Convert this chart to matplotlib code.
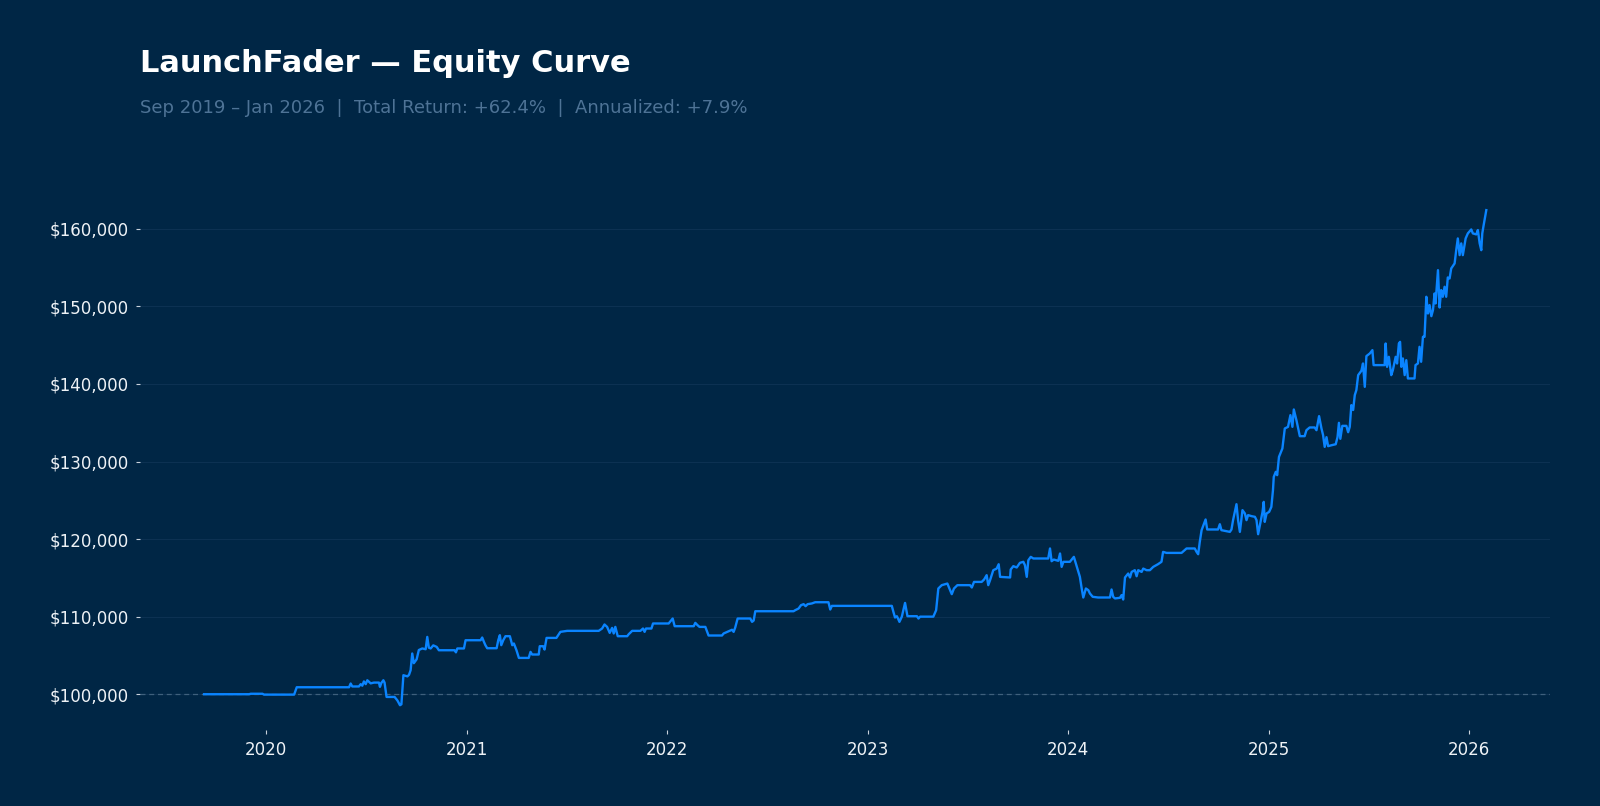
import numpy as np
import pandas as pd
import matplotlib
matplotlib.use("Agg")
import matplotlib.pyplot as plt
import matplotlib.dates as mdates
import matplotlib.ticker as mticker

# =========================
# Data (decimal year, account value in $)
# =========================
years = [
    2019.691, 2019.915, 2019.924, 2019.982, 2019.990, 2020.140, 2020.153, 2020.414,
    2020.422, 2020.430, 2020.463, 2020.472, 2020.480, 2020.488, 2020.497, 2020.505,
    2020.522, 2020.538, 2020.563, 2020.568, 2020.575, 2020.585, 2020.591, 2020.601,
    2020.641, 2020.655, 2020.668, 2020.675, 2020.685, 2020.705, 2020.713, 2020.721,
    2020.729, 2020.737, 2020.751, 2020.762, 2020.779, 2020.796, 2020.804, 2020.812,
    2020.821, 2020.834, 2020.851, 2020.862, 2020.940, 2020.947, 2020.954, 2020.987,
    2020.995, 2021.070, 2021.078, 2021.086, 2021.094, 2021.103, 2021.150, 2021.158,
    2021.166, 2021.173, 2021.183, 2021.194, 2021.216, 2021.228, 2021.236, 2021.249,
    2021.261, 2021.310, 2021.319, 2021.327, 2021.360, 2021.365, 2021.382, 2021.389,
    2021.399, 2021.448, 2021.468, 2021.502, 2021.659, 2021.676, 2021.688, 2021.701,
    2021.714, 2021.726, 2021.734, 2021.742, 2021.754, 2021.801, 2021.809, 2021.826,
    2021.867, 2021.880, 2021.888, 2021.895, 2021.922, 2021.930, 2022.008, 2022.028,
    2022.038, 2022.133, 2022.141, 2022.152, 2022.162, 2022.191, 2022.207, 2022.274,
    2022.282, 2022.324, 2022.332, 2022.340, 2022.352, 2022.415, 2022.424, 2022.432,
    2022.440, 2022.631, 2022.639, 2022.656, 2022.668, 2022.681, 2022.691, 2022.701,
    2022.722, 2022.739, 2022.805, 2022.814, 2022.822, 2023.121, 2023.129, 2023.137,
    2023.146, 2023.152, 2023.159, 2023.171, 2023.187, 2023.199, 2023.246, 2023.254,
    2023.262, 2023.328, 2023.342, 2023.353, 2023.370, 2023.398, 2023.408, 2023.420,
    2023.431, 2023.448, 2023.511, 2023.520, 2023.531, 2023.569, 2023.581, 2023.594,
    2023.602, 2023.611, 2023.627, 2023.644, 2023.654, 2023.661, 2023.711, 2023.714,
    2023.727, 2023.744, 2023.760, 2023.777, 2023.785, 2023.794, 2023.802, 2023.814,
    2023.827, 2023.901, 2023.910, 2023.918, 2023.929, 2023.951, 2023.960, 2023.968,
    2023.977, 2024.009, 2024.029, 2024.039, 2024.051, 2024.059, 2024.068, 2024.076,
    2024.089, 2024.101, 2024.109, 2024.123, 2024.150, 2024.209, 2024.217, 2024.225,
    2024.234, 2024.259, 2024.267, 2024.275, 2024.284, 2024.300, 2024.309, 2024.317,
    2024.333, 2024.342, 2024.350, 2024.367, 2024.375, 2024.392, 2024.408, 2024.425,
    2024.449, 2024.466, 2024.474, 2024.491, 2024.566, 2024.591, 2024.632, 2024.641,
    2024.649, 2024.657, 2024.666, 2024.677, 2024.686, 2024.694, 2024.748, 2024.757,
    2024.765, 2024.807, 2024.815, 2024.823, 2024.840, 2024.848, 2024.857, 2024.870,
    2024.882, 2024.890, 2024.898, 2024.915, 2024.932, 2024.940, 2024.948, 2024.960,
    2024.970, 2024.976, 2024.981, 2024.990, 2025.003, 2025.014, 2025.022, 2025.026,
    2025.036, 2025.043, 2025.052, 2025.059, 2025.069, 2025.081, 2025.097, 2025.109,
    2025.119, 2025.126, 2025.139, 2025.156, 2025.180, 2025.189, 2025.205, 2025.230,
    2025.239, 2025.252, 2025.264, 2025.272, 2025.280, 2025.289, 2025.297, 2025.314,
    2025.335, 2025.344, 2025.351, 2025.358, 2025.368, 2025.388, 2025.397, 2025.405,
    2025.413, 2025.422, 2025.430, 2025.438, 2025.447, 2025.463, 2025.471, 2025.480,
    2025.488, 2025.505, 2025.518, 2025.524, 2025.579, 2025.584, 2025.591, 2025.600,
    2025.612, 2025.620, 2025.634, 2025.641, 2025.650, 2025.656, 2025.662, 2025.670,
    2025.679, 2025.687, 2025.695, 2025.728, 2025.733, 2025.745, 2025.753, 2025.761,
    2025.770, 2025.778, 2025.787, 2025.795, 2025.803, 2025.812, 2025.820, 2025.828,
    2025.833, 2025.845, 2025.853, 2025.861, 2025.869, 2025.878, 2025.886, 2025.894,
    2025.903, 2025.911, 2025.928, 2025.936, 2025.944, 2025.953, 2025.961, 2025.969,
    2025.983, 2025.994, 2026.011, 2026.019, 2026.036, 2026.044, 2026.053, 2026.061,
    2026.066, 2026.072, 2026.086,
]

equity = [
    100000, 100000, 100060, 100060, 99950, 99950, 100900, 100900,
    101380, 101000, 101000, 101300, 101100, 101650, 101300, 101800,
    101400, 101500, 101500, 100950, 101450, 101800, 101500, 99650,
    99650, 99200, 98580, 98700, 102450, 102300, 102500, 103100,
    105250, 104000, 104500, 105700, 105900, 105800, 107390, 106000,
    105900, 106300, 106100, 105670, 105670, 105400, 105900, 105900,
    106960, 106960, 107310, 106790, 106320, 105930, 105930, 106960,
    107610, 106320, 106960, 107480, 107480, 106320, 106540, 105670,
    104680, 104680, 105460, 105120, 105120, 106190, 106190, 105760,
    107260, 107260, 108040, 108170, 108170, 108470, 108990, 108680,
    107910, 108550, 107830, 108680, 107480, 107480, 107740, 108170,
    108170, 108470, 108040, 108470, 108470, 109120, 109120, 109760,
    108770, 108770, 109200, 108900, 108680, 108680, 107570, 107570,
    107830, 108310, 108040, 108600, 109760, 109760, 109330, 109500,
    110700, 110700, 110830, 111050, 111480, 111610, 111350, 111610,
    111700, 111860, 111860, 110920, 111390, 111390, 110610, 109890,
    110060, 109760, 109330, 110000, 111770, 110060, 110060, 109760,
    110000, 110000, 110830, 113630, 114060, 114270, 113630, 112900,
    113630, 114060, 114060, 113760, 114480, 114480, 114780, 115350,
    114060, 114700, 115990, 116200, 116760, 115130, 115050, 116080,
    116510, 116340, 116940, 117070, 116630, 115130, 117280, 117710,
    117500, 117500, 118790, 117150, 117360, 117200, 118140, 116420,
    117070, 117070, 117710, 116850, 115770, 115130, 113630, 112470,
    113630, 113420, 112990, 112560, 112470, 112470, 113500, 112560,
    112350, 112430, 112780, 112210, 115050, 115560, 115050, 115770,
    115990, 115210, 115990, 115770, 116200, 115990, 115990, 116420,
    116770, 117070, 118350, 118220, 118220, 118790, 118790, 118350,
    118050, 119640, 121150, 121920, 122530, 121240, 121240, 121920,
    121150, 120930, 121240, 122440, 124500, 122440, 120930, 123730,
    123300, 122440, 123090, 122960, 122870, 122440, 120630, 122220,
    123510, 124800, 122220, 123300, 123510, 124150, 126300, 128020,
    128670, 128240, 130600, 131040, 131680, 134260, 134470, 135980,
    134470, 136710, 135330, 133270, 133270, 134040, 134390, 134390,
    134040, 135850, 134250, 133400, 131890, 133140, 131980, 132100,
    132230, 133140, 134990, 132930, 134600, 134600, 133780, 134470,
    137270, 136650, 138560, 139210, 141140, 141700, 142640, 139630,
    143590, 143930, 144360, 142430, 142430, 145220, 142210, 143500,
    141140, 141780, 143500, 142640, 145220, 145430, 142210, 143290,
    141140, 143070, 140710, 140710, 142430, 142640, 144790, 142860,
    146080, 146080, 151240, 149090, 150170, 148740, 149520, 151670,
    150380, 154670, 149860, 152100, 151240, 152530, 151240, 153730,
    153600, 154890, 155540, 157250, 158760, 156610, 158120, 156610,
    158760, 159410, 159920, 159410, 159280, 159840, 158120, 157250,
    159410, 160350, 162410,
]

starting_capital = 100000
title = "LaunchFader \u2014 Equity Curve"
subtitle = "Sep 2019 \u2013 Jan 2026  |  Total Return: +62.4%  |  Annualized: +7.9%"

dates = pd.Timestamp("2020-01-01") + pd.to_timedelta(
    (np.array(years) - 2020.0) * 365.25, unit="D")

# =========================
# Style
# =========================
BG = "#002645"
LINE = "#0a84ff"
GRID = "#0c3152"
TICK = "#eef2f6"

fig = plt.figure(figsize=(16, 8.06), dpi=100, facecolor=BG)
ax = fig.add_axes([0.0875, 0.0943, 0.8815, 0.6757])
ax.set_facecolor(BG)

ax.plot(dates, equity, color=LINE, linewidth=1.7, zorder=3)
ax.axhline(starting_capital, color="#4d6c88", linewidth=0.9,
           linestyle=(0, (4, 3)), alpha=0.8, zorder=2)

ax.grid(axis="y", color=GRID, linewidth=0.8)
ax.grid(axis="x", visible=False)
ax.set_axisbelow(True)
for s in ax.spines.values():
    s.set_visible(False)

ax.xaxis.set_major_locator(mdates.YearLocator())
ax.xaxis.set_major_formatter(mdates.DateFormatter("%Y"))
ax.yaxis.set_major_locator(mticker.MultipleLocator(10000))
ax.yaxis.set_major_formatter(mticker.FuncFormatter(lambda v, _: f"${v:,.0f}"))
ax.tick_params(axis="both", colors="#c9d2dc", labelcolor=TICK,
               labelsize=12, length=3, width=0.8, pad=5)

fig.text(0.0875, 0.911, title, fontsize=22, fontweight="bold",
         color="white", va="baseline")
fig.text(0.0875, 0.860, subtitle, fontsize=13, color="#4e7396",
         va="baseline")

fig.savefig("out.png", dpi=100, facecolor=BG)
